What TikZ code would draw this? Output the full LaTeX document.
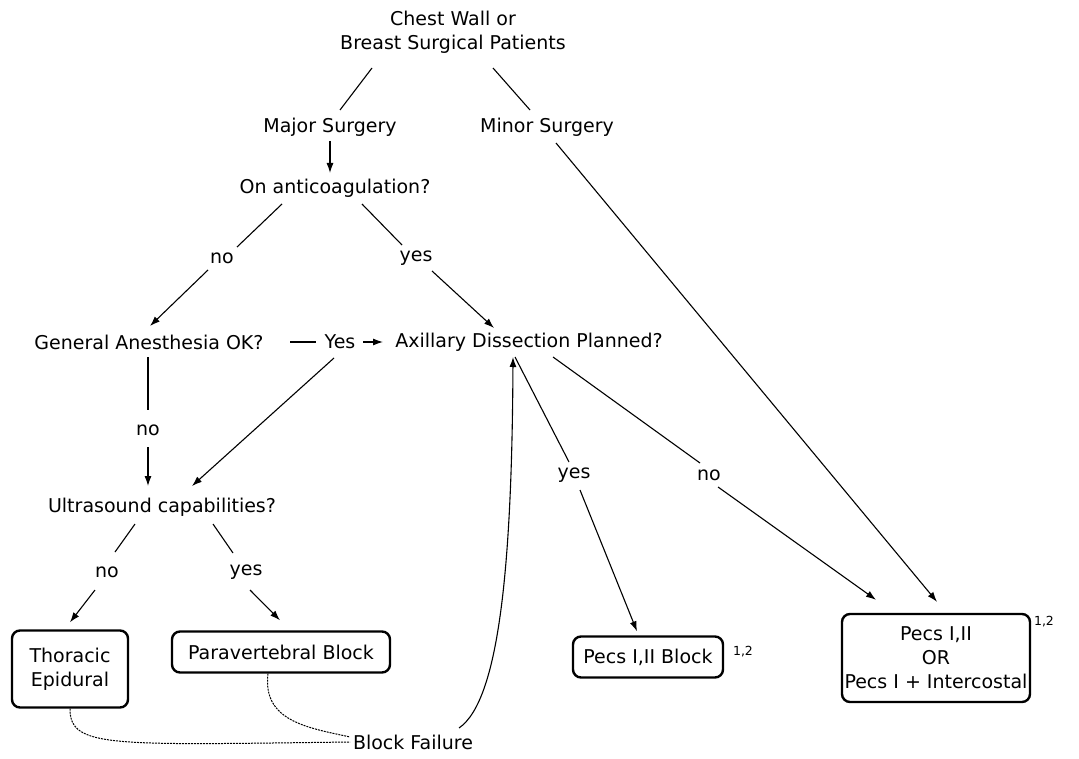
\documentclass[tikz,border=0pt]{standalone}
\usepackage{fontspec}
\setmainfont{DejaVu Sans}
\usetikzlibrary{arrows.meta,calc}
\begin{document}
\begin{tikzpicture}[x=1pt,y=-1pt,
  txt/.style={inner sep=0pt,align=center,font=\fontsize{19}{24}\selectfont},
  box/.style={txt,draw,line width=2.4pt,rounded corners=8pt,minimum height=41pt},
  sup/.style={inner sep=0pt,font=\fontsize{12.5}{14}\selectfont},
  con/.style={line width=1.1pt},
  arr/.style={con,-{Latex[length=10pt,width=7pt]}},
  dsh/.style={line width=1pt,dash pattern=on 2pt off 1pt}]
\useasboundingbox (0,0) rectangle (1079,759);
\node[txt] (chest) at (453,32) {Chest Wall or\\Breast Surgical Patients};
\node[txt] (major) at (330,127) {Major Surgery};
\node[txt] (minor) at (547,127) {Minor Surgery};
\node[txt] (anti) at (335,188) {On anticoagulation?};
\node[txt] (no1) at (222,258) {no};
\node[txt] (yes1) at (416,258) {yes};
\node[txt] (ga) at (149,342) {General Anesthesia OK?};
\node[txt] (yes2) at (340,342) {Yes};
\node[txt] (axd) at (529,342) {Axillary Dissection Planned?};
\node[txt] (no2) at (148,430) {no};
\node[txt] (us) at (162,507) {Ultrasound capabilities?};
\node[txt] (no3) at (107,572) {no};
\node[txt] (yes3) at (246,572) {yes};
\node[txt] (yes4) at (574,475) {yes};
\node[txt] (no4) at (709,475) {no};
\node[box,minimum width=116pt,minimum height=77pt] (thor) at (70,669) {Thoracic\\Epidural};
\node[box,minimum width=218pt] (para) at (281,652) {Paravertebral Block};
\node[box,minimum width=150pt] (pecs) at (648,657) {Pecs I,II Block};
\node[box,minimum width=188pt,minimum height=88pt] (big) at (936,658) {Pecs I,II\\OR\\Pecs I + Intercostal};
\node[sup] (s1) at (743,652) {1,2};
\node[sup] (s2) at (1044,622) {1,2};
\node[txt] (bf) at (413,742) {Block Failure};

\draw[con] ($(chest)+(-81,36)$) -- ($(major)+(10,-17)$);
\draw[con] ($(chest)+(40,36)$) -- ($(minor)+(-17,-17)$);
\draw[arr] ($(major)+(0,14)$) -- ($(anti)+(-5,-15)$);
\draw[con] ($(anti)+(-53,16)$) -- ($(no1)+(15,-11)$);
\draw[arr] ($(no1)+(-14,12)$) -- ($(ga)+(1,-16)$);
\draw[con] ($(anti)+(27,16)$) -- ($(yes1)+(-14,-13)$);
\draw[arr] ($(yes1)+(16,13)$) -- ($(axd)+(-35,-14)$);
\draw[con] ($(ga)+(141,0)$) -- ($(yes2)+(-24,0)$);
\draw[arr] ($(yes2)+(23,0)$) -- ($(axd)+(-146,0)$);
\draw[con] ($(ga)+(-1,15)$) -- ($(no2)+(0,-20)$);
\draw[arr] ($(no2)+(0,17)$) -- ($(us)+(-14,-21)$);
\draw[arr] ($(yes2)+(-6,16)$) -- ($(us)+(30,-21)$);
\draw[con] ($(us)+(-27,17)$) -- ($(no3)+(8,-20)$);
\draw[arr] ($(no3)+(-12,18)$) -- ($(thor.north)+(0,-7)$);
\draw[con] ($(us)+(51,17)$) -- ($(yes3)+(-13,-19)$);
\draw[arr] ($(yes3)+(4,18)$) -- ($(para.north)+(-1,-10)$);
\draw[con] ($(axd)+(-14,15)$) -- ($(yes4)+(-5,-13)$);
\draw[arr] ($(yes4)+(6,15)$) -- ($(pecs.north)+(-11,-4)$);
\draw[con] ($(axd)+(24,15)$) -- ($(no4)+(-9,-12)$);
\draw[arr] ($(no4)+(9,12)$) -- ($(big.north)+(-60,-13)$);
\draw[arr] ($(minor)+(9,16)$) -- ($(big.north)+(1,-11)$);
\draw[arr] ($(bf)+(46,-14)$) .. controls (500,700) and (512,560) .. ($(axd)+(-16,15)$);
\draw[dsh] (thor.south) .. controls (70,748) and (110,745) .. ($(bf)+(-63,0)$);
\draw[dsh] ($(para.south)+(-13,0)$) .. controls (262,722) and (310,728) .. ($(bf)+(-63,-5)$);
\end{tikzpicture}
\end{document}
